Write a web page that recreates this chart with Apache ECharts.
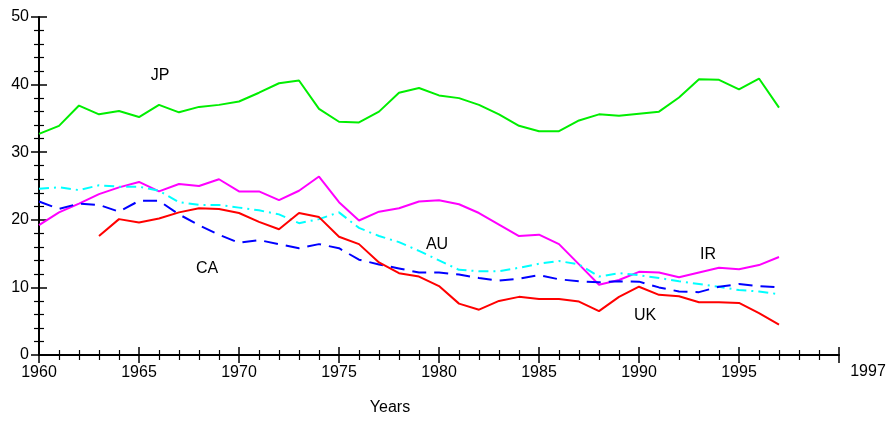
<!DOCTYPE html>
<html>
<head>
<meta charset="utf-8">
<script src="https://cdn.jsdelivr.net/npm/echarts@6/dist/echarts.min.js"></script>
<style>
html, body { margin: 0; padding: 0; background: #fff; }
#chart { width: 891px; height: 421px; }
</style>
</head>
<body>
<div id="chart"></div>
<script>
const years = []
for (let y = 1960; y <= 1997; y++) years.push(y)

const jp = [32.7, 33.9, 36.9, 35.6, 36.1, 35.2, 37.0, 35.9, 36.7, 37.0,
	37.5, 38.8, 40.2, 40.6, 36.4, 34.5, 34.4, 36.0, 38.8, 39.5,
	38.4, 38.0, 37.0, 35.6, 33.9, 33.1, 33.1, 34.7, 35.6, 35.4,
	35.7, 36.0, 38.1, 40.8, 40.7, 39.3, 40.9, 36.6]
const ir = [19.2, 21.1, 22.4, 23.8, 24.8, 25.6, 24.2, 25.3, 25.0, 26.0,
	24.2, 24.2, 22.9, 24.3, 26.4, 22.6, 19.9, 21.2, 21.7, 22.7,
	22.9, 22.3, 21.0, 19.3, 17.6, 17.8, 16.4, 13.4, 10.4, 11.1,
	12.3, 12.2, 11.5, 12.2, 12.9, 12.7, 13.3, 14.5]
const au = [24.6, 24.8, 24.4, 25.1, 24.9, 24.9, 24.3, 22.6, 22.2, 22.2,
	21.8, 21.4, 20.8, 19.5, 20.1, 21.1, 18.8, 17.6, 16.7, 15.4,
	14.0, 12.6, 12.4, 12.4, 12.9, 13.5, 13.9, 13.4, 11.6, 12.1,
	11.8, 11.4, 10.9, 10.5, 10.1, 9.6, 9.4, 9.0]
const ca = [22.7, 21.6, 22.4, 22.2, 21.2, 22.8, 22.8, 20.8, 19.2, 17.8,
	16.6, 17.0, 16.4, 15.8, 16.4, 15.8, 14.1, 13.4, 12.8, 12.2,
	12.2, 11.9, 11.4, 11.0, 11.3, 11.8, 11.2, 10.9, 10.75, 10.9,
	10.85, 10.0, 9.4, 9.3, 10.1, 10.5, 10.2, 10.0]
const uk = [null, null, null, 17.6, 20.1, 19.6, 20.2, 21.1, 21.7, 21.6,
	21.0, 19.7, 18.6, 21.0, 20.4, 17.5, 16.4, 13.7, 12.1, 11.6,
	10.2, 7.6, 6.7, 8.0, 8.6, 8.3, 8.3, 7.9, 6.5, 8.6,
	10.1, 8.9, 8.7, 7.8, 7.8, 7.7, 6.2, 4.5]

const seriesLabels = [
	{ text: 'JP', x: 160, y: 76 },
	{ text: 'CA', x: 207, y: 269 },
	{ text: 'AU', x: 437, y: 245 },
	{ text: 'IR', x: 708, y: 255 },
	{ text: 'UK', x: 645, y: 316 },
]

const font = 'Liberation Sans, Arial, sans-serif'
const pairs = arr => years.map((y, i) => [y, arr[i]])

function line(name, data, color, type) {
	return {
		name: name,
		type: 'line',
		data: pairs(data),
		symbol: 'none',
		connectNulls: false,
		lineStyle: { color: color, width: 2, type: type || 'solid' },
		z: 3,
	}
}

// two copies of each axis: one with ticks outside, one inside, so ticks cross the line
function xAx(inside, show) {
	return {
		type: 'value',
		position: 'bottom',
		min: 1960,
		max: 2000,
		interval: 5,
		axisLine: { show: show, lineStyle: { color: '#000', width: 2 } },
		axisTick: { show: true, inside: inside, length: 8, lineStyle: { color: '#000', width: 1.5 } },
		minorTick: { show: true, splitNumber: 5, length: 5, lineStyle: { color: '#000', width: 1.2 } },
		axisLabel: {
			show: show,
			fontFamily: font,
			fontSize: 16,
			color: '#000',
			margin: 10,
			formatter: v => (v === 2000 ? '' : String(v)),
		},
		splitLine: { show: false },
	}
}

function yAx(inside, show) {
	return {
		type: 'value',
		position: 'left',
		min: 0,
		max: 50,
		interval: 10,
		axisLine: { show: show, lineStyle: { color: '#000', width: 2 } },
		axisTick: { show: true, inside: inside, length: 8, lineStyle: { color: '#000', width: 1.5 } },
		minorTick: { show: true, splitNumber: 5, length: 5, lineStyle: { color: '#000', width: 1.2 } },
		axisLabel: { show: show, fontFamily: font, fontSize: 16, color: '#000', margin: 10 },
		splitLine: { show: false },
	}
}

const chart = echarts.init(document.getElementById('chart'))
chart.setOption({
	animation: false,
	backgroundColor: '#fff',
	grid: { left: 39, right: 52, top: 17, bottom: 66, containLabel: false },
	xAxis: [xAx(false, true), xAx(true, false)],
	yAxis: [yAx(false, true), yAx(true, false)],
	series: [
		line('JP', jp, '#00ee00'),
		line('IR', ir, '#ff00ff'),
		line('AU', au, '#00ffff', [10, 5, 2, 5]),
		line('CA', ca, '#0000ff', [14, 8]),
		line('UK', uk, '#ff0000'),
	],
	graphic: seriesLabels.map(l => ({
		type: 'text',
		x: l.x,
		y: l.y,
		style: { text: l.text, fill: '#000', font: '16px ' + font, textAlign: 'center', textVerticalAlign: 'middle' },
	})).concat([
		{
			type: 'text', x: 390, y: 408,
			style: { text: 'Years', fill: '#000', font: '16px ' + font, textAlign: 'center', textVerticalAlign: 'middle' },
		},
		{
			type: 'text', x: 868, y: 372,
			style: { text: '1997', fill: '#000', font: '16px ' + font, textAlign: 'center', textVerticalAlign: 'middle' },
		},
	]),
})
</script>
</body>
</html>
